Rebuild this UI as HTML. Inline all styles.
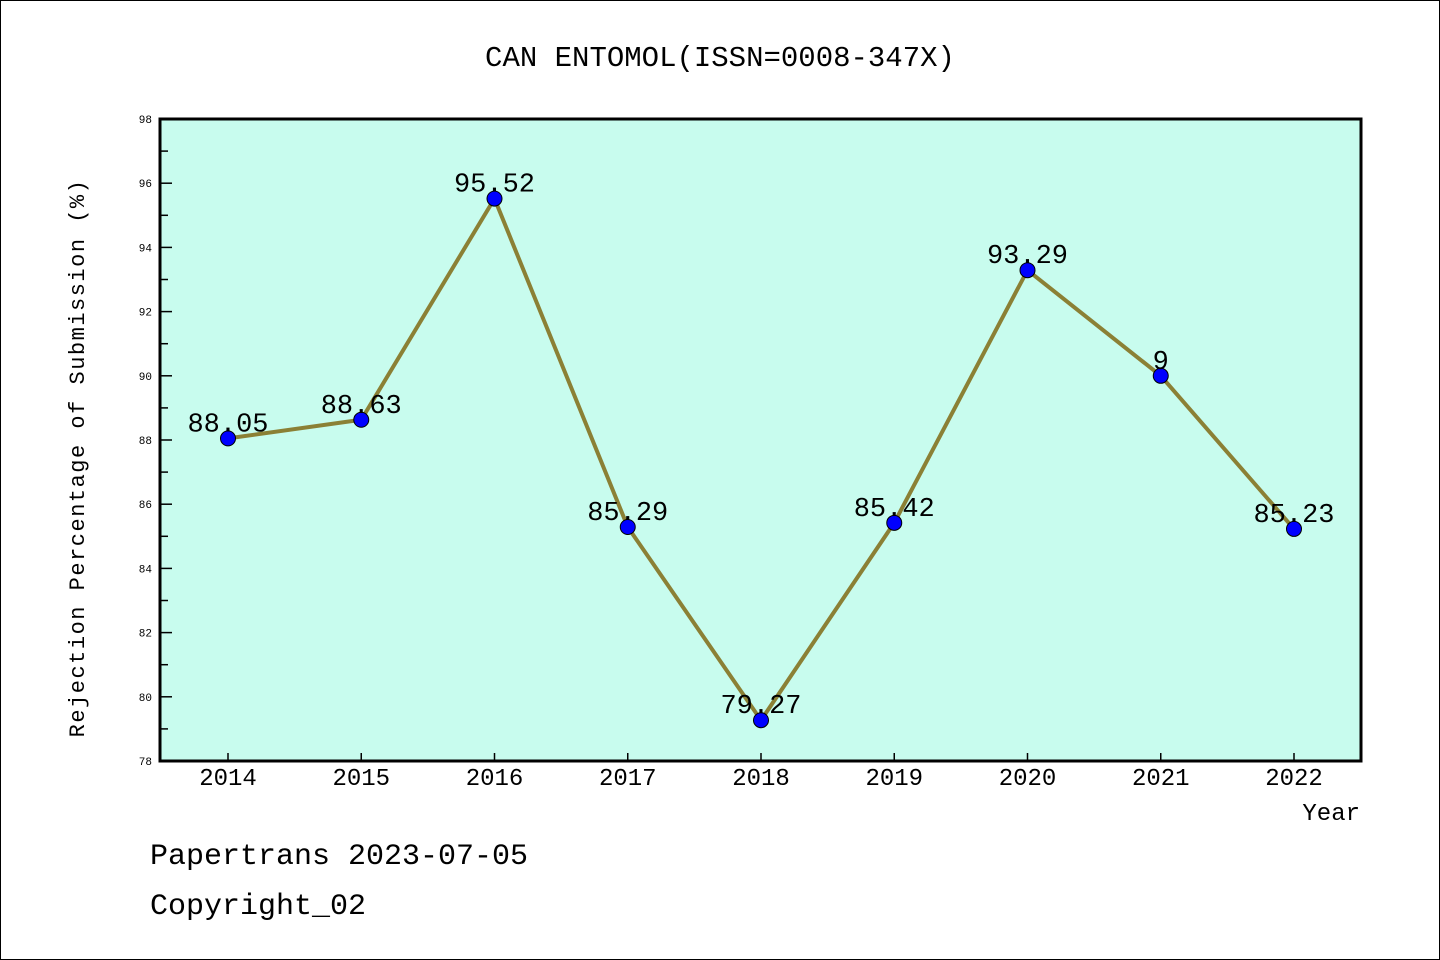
<!DOCTYPE html>
<html><head><meta charset="utf-8"><style>
html,body{margin:0;padding:0;background:#fff}
svg{display:block;font-family:"Liberation Mono","DejaVu Sans Mono",monospace}
</style></head><body>
<svg id="chart" width="1440" height="960">
<rect x="0.5" y="0.5" width="1439" height="959" fill="#fff" stroke="#000"/>
<text x="720" y="66" font-size="29" text-anchor="middle">CAN ENTOMOL(ISSN=0008-347X)</text>
<rect x="160" y="119" width="1201" height="642" fill="#c8fcee" stroke="#000" stroke-width="3"/>
<g id="axes"></g>
<g id="series"></g>
<text transform="translate(84,458) rotate(-90)" font-size="22" text-anchor="middle" letter-spacing="1.5">Rejection Percentage of Submission (%)</text>
<text x="1360" y="820" font-size="24" text-anchor="end">Year</text>
<text x="150" y="864" font-size="30">Papertrans 2023-07-05</text>
<text x="150" y="914" font-size="30">Copyright_02</text>
</svg>
<script>
const years = [2014,2015,2016,2017,2018,2019,2020,2021,2022];
const values = [88.05,88.63,95.52,85.29,79.27,85.42,93.29,90,85.23];
const valueLabels = ["88.05","88.63","95.52","85.29","79.27","85.42","93.29","9","85.23"];
const yTicks = [78,80,82,84,86,88,90,92,94,96,98];
const NS="http://www.w3.org/2000/svg";
const X0=160,X1=1361,Y0=761,Y1=119,yMin=78,yMax=98;
function xs(i){return 228+i*(1294-228)/(years.length-1);}
function ys(v){return Y0-(v-yMin)/(yMax-yMin)*(Y0-Y1);}
function mk(tag,attrs,parent){const e=document.createElementNS(NS,tag);for(const k in attrs)e.setAttribute(k,attrs[k]);parent.appendChild(e);return e;}
const axes=document.getElementById('axes'),ser=document.getElementById('series');
yTicks.forEach(t=>{
  const y=ys(t);
  const l=mk('line',{x1:X0,x2:X0+12,y1:y,y2:y,stroke:'#000','stroke-width':1.5},axes);
  
  
  const tx=mk('text',{x:152,y:y+4,'font-size':11,'text-anchor':'end'},axes);
  tx.textContent=t;
  
  
  if(t<yMax){const ym=ys(t+1);
    const m=mk('line',{x1:X0,x2:X0+8,y1:ym,y2:ym,stroke:'#000','stroke-width':1.5},axes);
    
    }
});
years.forEach((yr,i)=>{
  const x=xs(i);
  const l=mk('line',{x1:x,x2:x,y1:Y0,y2:Y0-8,stroke:'#000','stroke-width':1.5},axes);
  
  
  const tx=mk('text',{x:x,y:Y0+24,'font-size':24,'text-anchor':'middle'},axes);
  tx.textContent=yr;
  
  
});
const pts=values.map((v,i)=>xs(i)+','+ys(v)).join(' ');
const line=mk('polyline',{points:pts,fill:'none',stroke:'#8b8035','stroke-width':4},ser);


values.forEach((v,i)=>{
  const c=mk('circle',{cx:xs(i),cy:ys(v),r:7.5,fill:'#0000ff',stroke:'#000','stroke-width':1},ser);
  
  
  const t=mk('text',{x:xs(i),y:ys(v)-7,'font-size':27,'text-anchor':'middle'},ser);
  t.textContent=valueLabels[i];
  
  
});
</script>
</body></html>
